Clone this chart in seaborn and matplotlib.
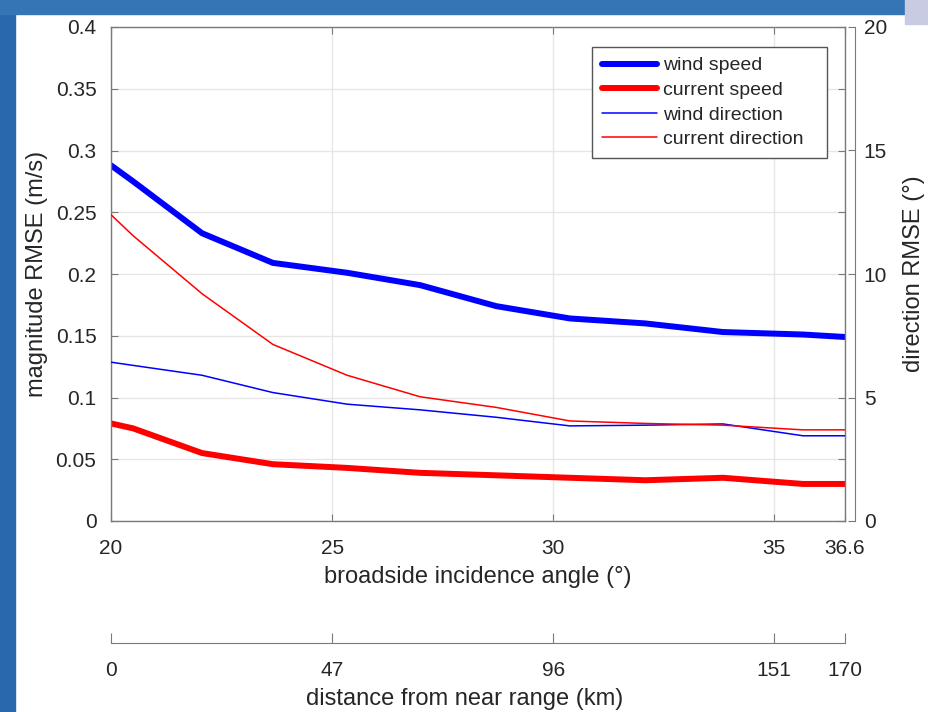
import numpy as np
import pandas as pd
import matplotlib
matplotlib.use('Agg')
import matplotlib.pyplot as plt
import seaborn as sns
from matplotlib.patches import Rectangle

# values
angle = [20.0, 20.5, 22.06, 23.66, 25.34, 26.99, 28.71, 30.38, 32.08, 33.84, 35.65, 36.6]
wind_speed = [0.288, 0.275, 0.233, 0.209, 0.201, 0.191, 0.174, 0.164, 0.160, 0.153, 0.151, 0.149]
current_speed = [0.079, 0.075, 0.055, 0.046, 0.043, 0.039, 0.037, 0.035, 0.033, 0.035, 0.030, 0.030]
wind_direction = [6.43, 6.30, 5.90, 5.20, 4.73, 4.50, 4.20, 3.85, 3.88, 3.93, 3.45, 3.45]
current_direction = [12.4, 11.55, 9.2, 7.15, 5.9, 5.03, 4.6, 4.05, 3.95, 3.88, 3.69, 3.69]

angle_ticks = [20, 25, 30, 35, 36.6]
angle_labels = ['20', '25', '30', '35', '36.6']
range_labels = ['0', '47', '96', '151', '170']
mag_ticks = [0, 0.05, 0.1, 0.15, 0.2, 0.25, 0.3, 0.35, 0.4]
mag_labels = ['0', '0.05', '0.1', '0.15', '0.2', '0.25', '0.3', '0.35', '0.4']
dir_ticks = [0, 5, 10, 15, 20]

df = pd.DataFrame({'angle': angle, 'wind_speed': wind_speed, 'current_speed': current_speed,
                   'wind_direction': wind_direction, 'current_direction': current_direction})

sns.set_style('white')
plt.rcParams['font.family'] = ['Liberation Sans', 'DejaVu Sans']

W, H = 929, 712
fig = plt.figure(figsize=(W / 100, H / 100), dpi=100)

# blue slide background around the white panel
fig.add_artist(Rectangle((0, 0), 15 / W, 1, transform=fig.transFigure, color='#2a68ad', zorder=0))
fig.add_artist(Rectangle((0, 1 - 14 / H), 905 / W, 14 / H, transform=fig.transFigure, color='#3574b5', zorder=0))
fig.add_artist(Rectangle((905 / W, 1 - 24 / H), 24 / W, 24 / H, transform=fig.transFigure, color='#c9cbe3', zorder=0))

ax = fig.add_axes([111 / W, 1 - 521 / H, 734 / W, 494 / H])
ax2 = ax.twinx()

sns.lineplot(data=df, x='angle', y='wind_speed', ax=ax, color='#0000ff', lw=4.3, label='wind speed', legend=False)
sns.lineplot(data=df, x='angle', y='current_speed', ax=ax, color='#ff0000', lw=4.3, label='current speed', legend=False)
sns.lineplot(data=df, x='angle', y='wind_direction', ax=ax2, color='#0000ff', lw=1.1, label='wind direction', legend=False)
sns.lineplot(data=df, x='angle', y='current_direction', ax=ax2, color='#ff0000', lw=1.1, label='current direction', legend=False)

axis_grey = '#7a7a7a'
text_col = '#262626'

ax.set_xlim(20, 36.6)
ax.set_ylim(0, 0.4)
ax2.set_ylim(0, 20)
ax.set_xticks(angle_ticks, angle_labels)
ax.set_yticks(mag_ticks, mag_labels)
ax2.set_yticks(dir_ticks, [str(t) for t in dir_ticks])

ax.grid(True, color='#e6e6e6', lw=1)
ax.set_axisbelow(True)
for s in ax.spines.values():
    s.set_color(axis_grey)
    s.set_linewidth(1)
for side in ['top', 'left', 'bottom']:
    ax2.spines[side].set_visible(False)
ax2.spines['right'].set_position(('outward', 7.5))
ax2.spines['right'].set_color(axis_grey)

ax.tick_params(axis='both', direction='in', length=5, color=axis_grey, labelcolor=text_col,
               labelsize=15, bottom=True, left=True, top=True, right=True, labelright=False)
ax.tick_params(axis='x', pad=13)
ax.tick_params(axis='y', pad=10.5)
ax2.tick_params(axis='y', direction='in', length=5, color=axis_grey, labelcolor=text_col,
                labelsize=15, pad=6, right=True)

ax.set_xlabel('broadside incidence angle (°)', fontsize=17, color=text_col)
ax.set_ylabel('magnitude RMSE (m/s)', fontsize=17, color=text_col)
ax2.set_ylabel('direction RMSE (°)', fontsize=17, color=text_col)
ax.xaxis.set_label_coords(0.5, -0.091)
ax.yaxis.set_label_coords(-0.086, 0.5)
ax2.yaxis.set_label_coords(1.079, 0.5)

h1, l1 = ax.get_legend_handles_labels()
h2, l2 = ax2.get_legend_handles_labels()
leg_x0 = (592 - 111) / 734
leg_x1 = (827 - 111) / 734
leg_top = (521 - 47) / 494
leg = ax2.legend(h1 + h2, l1 + l2, loc='upper right',
                 bbox_to_anchor=(leg_x0, leg_top - 0.3, leg_x1 - leg_x0, 0.3), mode='expand',
                 borderaxespad=0, fontsize=14, frameon=True, fancybox=False, edgecolor='#555555',
                 framealpha=1, handlelength=2.85, handletextpad=0.28, labelspacing=0.36, borderpad=0.5)
leg.get_frame().set_linewidth(1)
for t in leg.get_texts():
    t.set_color(text_col)

# second x axis: distance from near range
ax3 = fig.add_axes([111 / W, 1 - 642.7 / H, 734 / W, 1e-4])
ax3.patch.set_visible(False)
for side in ['top', 'left', 'right']:
    ax3.spines[side].set_visible(False)
ax3.spines['bottom'].set_color(axis_grey)
ax3.set_xlim(20, 36.6)
ax3.set_xticks(angle_ticks, range_labels)
ax3.set_yticks([])
ax3.tick_params(axis='x', direction='in', length=7, color=axis_grey, labelcolor=text_col,
                labelsize=15, pad=13, bottom=True)
ax3.set_xlabel('distance from near range (km)', fontsize=17, color=text_col)
ax3.xaxis.set_label_coords(0.5, 1 - 688 / H, transform=fig.transFigure)

fig.savefig('out.png', dpi=100)
